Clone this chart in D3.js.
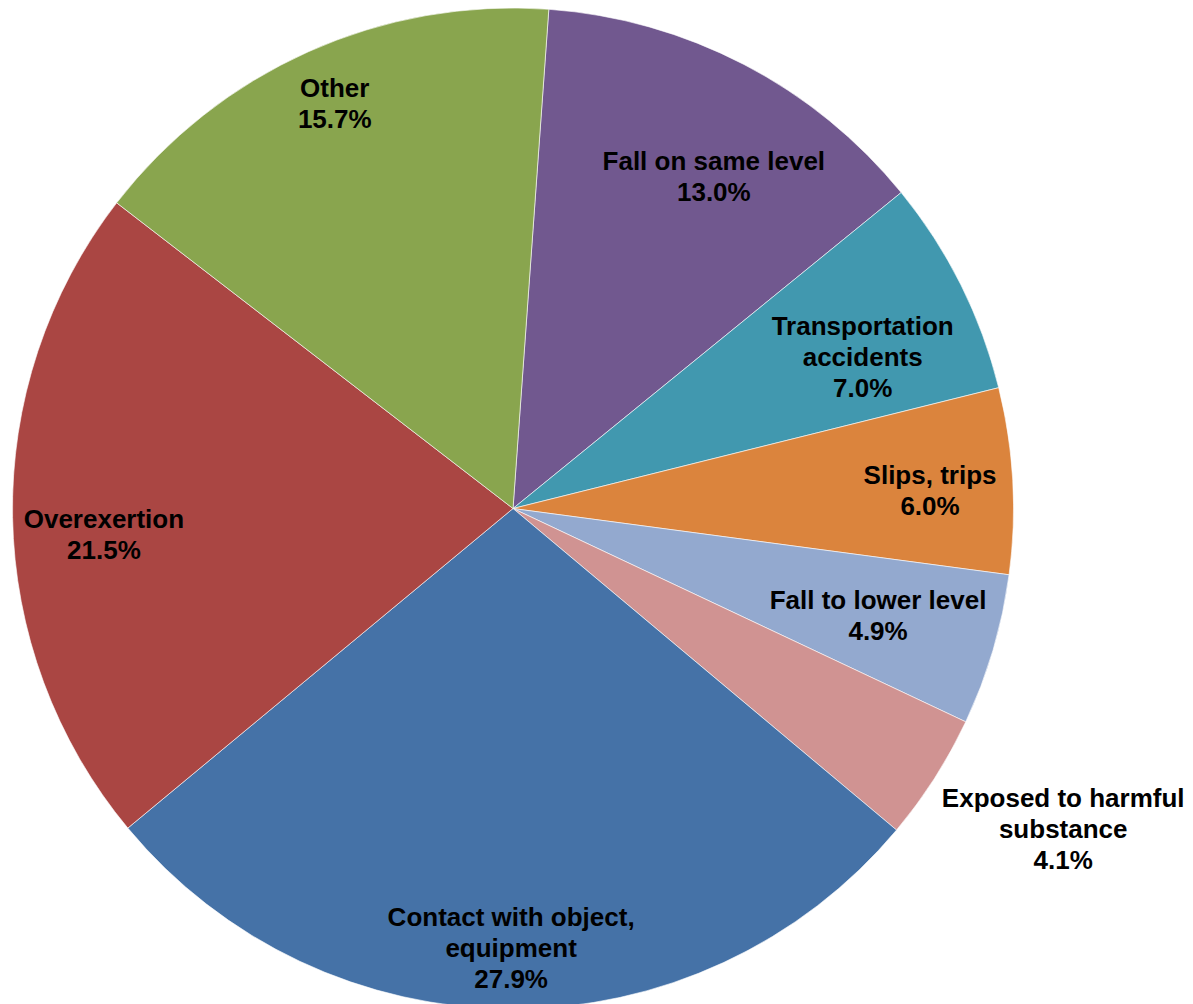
<!DOCTYPE html>
<html>
<head>
<meta charset="utf-8">
<script src="https://cdn.jsdelivr.net/npm/d3@7"></script>
<style>
  body { margin: 0; background: #fff; }
  text { font-family: "Liberation Sans", Arial, sans-serif; font-weight: bold; }
</style>
</head>
<body>
<script>
// Define dimensions
let width = 1193;
let height = 1004;
let cx = 513;
let cy = 508.5;
let radius = 500.5;

// Data, clockwise from just right of twelve o'clock
let categories = [
  "Fall on same level",
  "Transportation accidents",
  "Slips, trips",
  "Fall to lower level",
  "Exposed to harmful substance",
  "Contact with object, equipment",
  "Overexertion",
  "Other",
];
let values = [13.0, 7.0, 6.0, 4.9, 4.1, 27.9, 21.5, 15.7];
let labelLines = [
  ["Fall on same level"],
  ["Transportation", "accidents"],
  ["Slips, trips"],
  ["Fall to lower level"],
  ["Exposed to harmful", "substance"],
  ["Contact with object,", "equipment"],
  ["Overexertion"],
  ["Other"],
];
let colors = ["#71588F", "#4198AF", "#DB843D", "#93A9CF", "#D09392", "#4572A7", "#AA4643", "#89A54E"];

let data = categories.map((c, i) => ({ name: c, value: values[i], lines: labelLines[i], color: colors[i] }));

// Create SVG
let svg = d3
  .select("body")
  .append("svg")
  .attr("width", width)
  .attr("height", height);

let g = svg.append("g").attr("transform", `translate(${cx}, ${cy})`);

let startAngle = 0.0716;
let pie = d3
  .pie()
  .value((d) => d.value)
  .sort(null)
  .startAngle(startAngle)
  .endAngle(startAngle + 2 * Math.PI);

let arc = d3.arc().innerRadius(0).outerRadius(radius);

let arcs = pie(data);

// Draw slices
g.selectAll("path")
  .data(arcs)
  .join("path")
  .attr("d", arc)
  .attr("fill", (d) => d.data.color)
  .attr("stroke", "#fff")
  .attr("stroke-width", 0.6);

// Label placement: radius as a fraction of the pie radius, plus a small
// angle nudge (degrees) from the slice middle (the last-but-three sits outside)
let labelRadius = [0.775, 0.761, 0.834, 0.76, 1.272, 0.879, 0.819, 0.885];
let labelNudge = [3.7, 3.2, 0.7, -0.1, -2.4, 0.1, -2.6, 0.4];

let lineHeight = 31;
let labels = g
  .selectAll(".label")
  .data(arcs)
  .join("text")
  .attr("class", "label")
  .attr("text-anchor", "middle")
  .style("font-size", "26px")
  .attr("fill", "#000")
  .attr("transform", (d, i) => {
    let a = (d.startAngle + d.endAngle) / 2 + (labelNudge[i] * Math.PI) / 180;
    let r = radius * labelRadius[i];
    return `translate(${Math.sin(a) * r}, ${-Math.cos(a) * r})`;
  });

labels.each(function (d) {
  let lines = d.data.lines.concat([d.data.value.toFixed(1) + "%"]);
  let n = lines.length;
  d3.select(this)
    .selectAll("tspan")
    .data(lines)
    .join("tspan")
    .attr("x", 0)
    .attr("y", (l, k) => (k - (n - 1) / 2) * lineHeight + 9)
    .text((l) => l);
});
</script>
</body>
</html>
